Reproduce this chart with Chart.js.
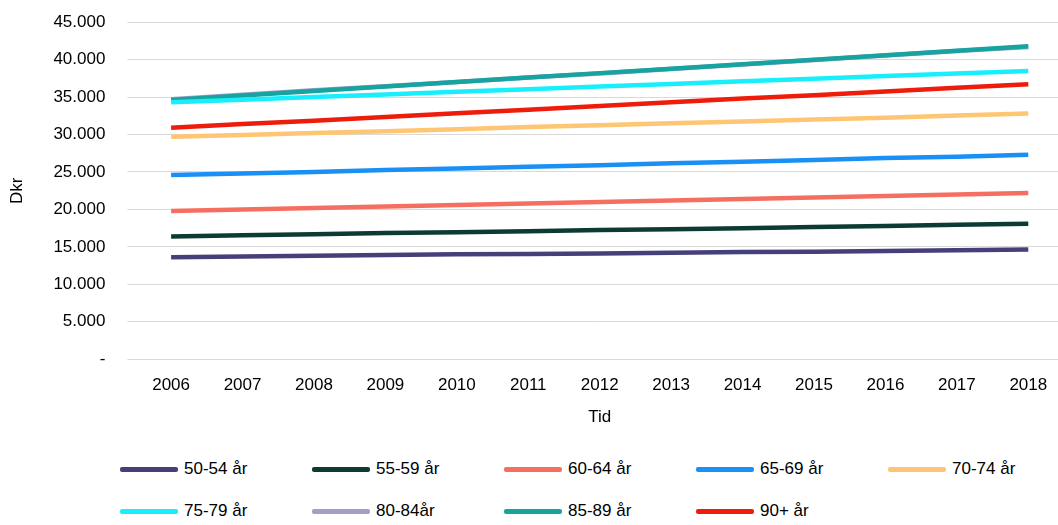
<!DOCTYPE html>
<html><head><meta charset="utf-8">
<script src="https://cdn.jsdelivr.net/npm/chart.js@4"></script>
<style>html,body{margin:0;padding:0;background:#fff;font-family:'Liberation Sans',Arial,sans-serif;overflow:hidden}
#wrap{width:1064px;height:442px;position:relative;margin-top:-10px}
#leg{position:absolute;left:120px;top:459px;width:940px;display:grid;grid-template-columns:repeat(5,192px);row-gap:22px;font-size:17px}
#leg div{display:flex;align-items:center;height:20px}
#leg span{display:inline-block;width:58px;height:5px;margin-right:6px;border-radius:2px}</style>
</head><body><div id="wrap"><canvas id="c"></canvas></div><div id="leg"></div>
<script>
const years = ['2006','2007','2008','2009','2010','2011','2012','2013','2014','2015','2016','2017','2018'];
const s5054 = [13600,13700,13800,13900,14000,14050,14100,14200,14300,14350,14450,14550,14650];
const s5559 = [16400,16550,16700,16850,16950,17100,17250,17350,17500,17650,17800,17950,18100];
const s6064 = [19800,20000,20200,20400,20600,20800,21000,21200,21400,21600,21800,22000,22200];
const s6569 = [24600,24800,25000,25250,25450,25700,25900,26150,26350,26600,26850,27050,27300];
const s7074 = [29700,29950,30200,30450,30700,31000,31250,31500,31750,32000,32250,32550,32800];
const s7579 = [34300,34650,35000,35350,35700,36050,36400,36750,37100,37450,37800,38150,38500];
const s8084 = [34700,35300,35900,36450,37000,37600,38150,38750,39350,39950,40550,41150,41700];
const s8589 = [34600,35200,35800,36400,37000,37600,38200,38800,39400,40000,40600,41200,41800];
const s90 = [30900,31400,31850,32350,32850,33300,33800,34300,34800,35250,35750,36250,36700];
const names = ['50-54 år','55-59 år','60-64 år','65-69 år','70-74 år','75-79 år','80-84år','85-89 år','90+ år'];
const colors = ['#46407a','#0c3b33','#f56f60','#1a90f5','#fec672','#18eefc','#a19ec9','#17a39f','#ee1c0a'];
const series = [s5054,s5559,s6064,s6569,s7074,s7579,s8084,s8589,s90];
Chart.defaults.font.family = 'Liberation Sans, Arial, sans-serif';
Chart.defaults.color = '#000';
new Chart(document.getElementById('c'), {
  type: 'line',
  data: { labels: years, datasets: series.map((d,i)=>({label:names[i],data:d,borderColor:colors[i],backgroundColor:colors[i],borderWidth:4.5,pointRadius:0,tension:0,order:i===6?5:0})) },
  options: {
    responsive:true, maintainAspectRatio:false, animation:false,
    layout:{padding:{left:3,right:0,top:0,bottom:0}},
    scales:{
      x:{offset:true,grid:{display:false},border:{color:'#d9d9d9'},ticks:{font:{size:17},padding:8},title:{display:true,text:'Tid',font:{size:17}}},
      y:{min:0,max:45000,ticks:{stepSize:5000,font:{size:17},padding:22,callback:v=>v===0?'-':v.toLocaleString('da-DK')},grid:{color:'#d9d9d9'},border:{display:false},title:{display:true,text:'Dkr',font:{size:17}}}
    },
    plugins:{legend:{display:false},tooltip:{enabled:false}}
  }
});
const leg = document.getElementById('leg');
names.forEach((n,i)=>{const d=document.createElement('div');d.innerHTML='<span style="background:'+colors[i]+'"></span>'+n;leg.appendChild(d);});
</script></body></html>
